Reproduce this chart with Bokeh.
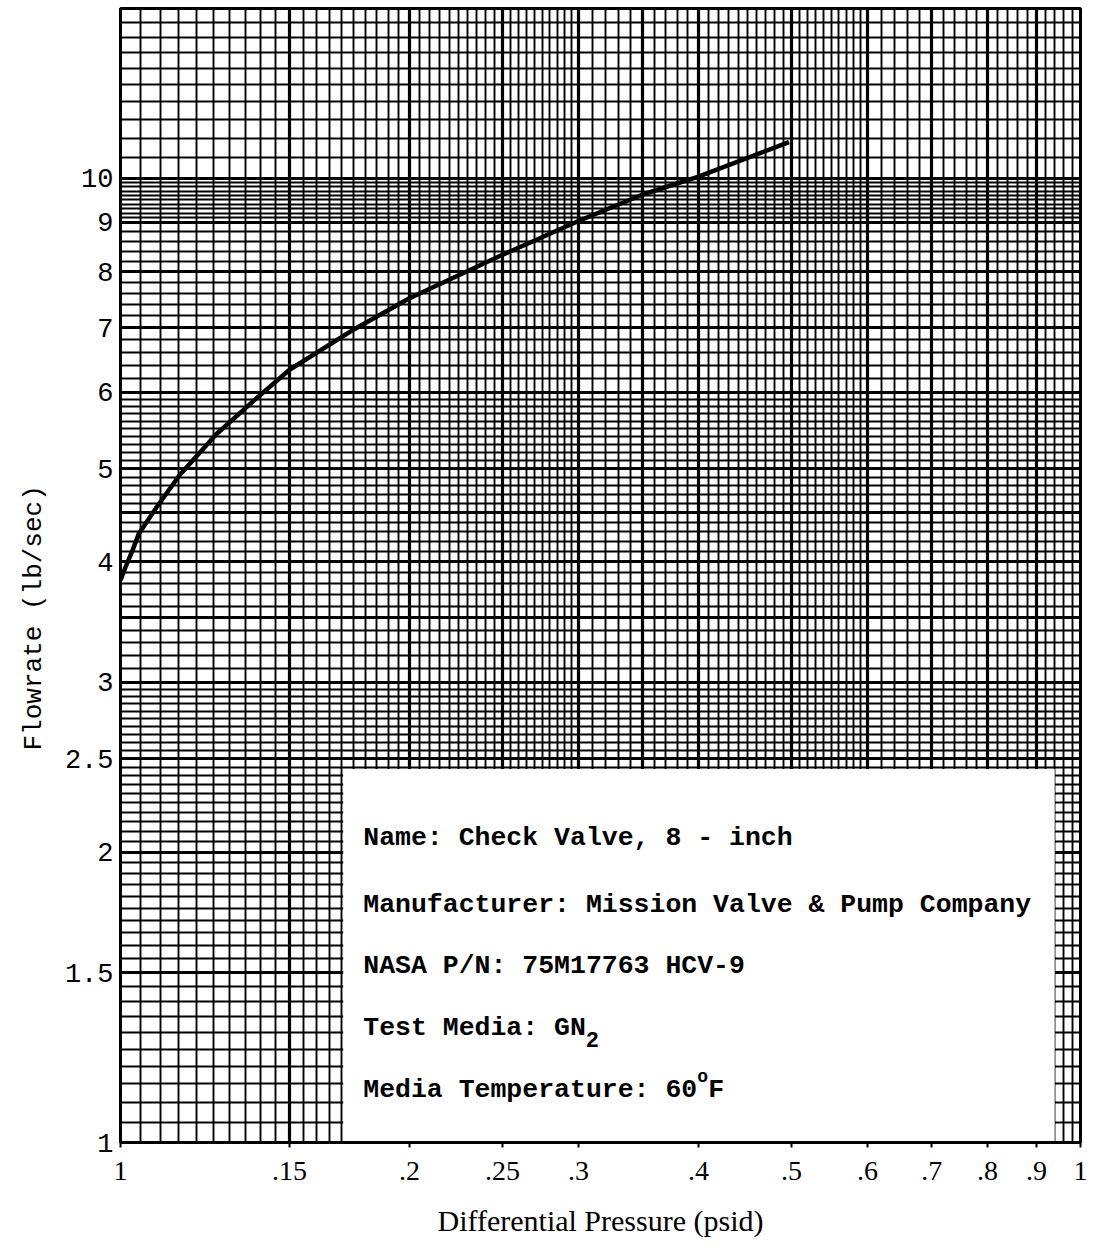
import numpy as np
from bokeh.plotting import figure
from bokeh.models import FixedTicker, Title
from bokeh.core.properties import value
from bokeh.embed import file_html
from bokeh.resources import INLINE

# ---- data ----
pressure = [0.100, 0.1012, 0.1029, 0.1045, 0.1089, 0.1152, 0.1259, 0.1377, 0.150,
            0.175, 0.200, 0.250, 0.300, 0.350, 0.400, 0.497]
flowrate = [3.83, 3.95, 4.11, 4.28, 4.55, 4.92, 5.43, 5.88, 6.33,
            6.97, 7.51, 8.33, 9.03, 9.62, 10.04, 10.9]

x_tick_values = [0.1, 0.15, 0.2, 0.25, 0.3, 0.4, 0.5, 0.6, 0.7, 0.8, 0.9, 1.0]
x_tick_labels = ["1", ".15", ".2", ".25", ".3", ".4", ".5", ".6", ".7", ".8", ".9", "1"]
y_tick_values = [1, 1.5, 2, 2.5, 3, 4, 5, 6, 7, 8, 9, 10]
y_tick_labels = ["1", "1.5", "2", "2.5", "3", "4", "5", "6", "7", "8", "9", "10"]

info_lines = ["Name: Check Valve, 8 - inch",
              "Manufacturer: Mission Valve & Pump Company",
              "NASA P/N: 75M17763 HCV-9",
              "Test Media: GN",
              "Media Temperature: 60"]

# ---- graph paper rulings ----
x_major_lines = [0.1, 0.15, 0.2, 0.25, 0.3, 0.35, 0.4, 0.5, 0.6, 0.7, 0.8, 0.9, 1.0]
x_minor_steps = [(0.1, 0.3, 0.005), (0.3, 0.6, 0.01), (0.6, 1.0, 0.02)]
y_major_lines = [1, 1.5, 2, 2.5, 3, 3.5, 4, 4.5, 5, 6, 7, 8, 9, 10, 15]
y_minor_steps = [(1, 3, 0.05), (3, 6, 0.1), (6, 9, 0.2), (9, 10, 0.1), (10, 15, 0.5)]


def rulings(steps, majors):
    vals = set()
    for a, b, s in steps:
        n = int(round((b - a) / s))
        for i in range(n + 1):
            vals.add(round(a + i * s, 4))
    maj = {round(m, 4) for m in majors}
    return sorted(v for v in vals if v not in maj)


x_minor_lines = rulings(x_minor_steps, x_major_lines)
y_minor_lines = rulings(y_minor_steps, y_major_lines)

p = figure(width=1094, height=1246, x_axis_type="log", y_axis_type="log",
           x_range=(0.1, 1.0), y_range=(1, 15),
           output_backend="svg", toolbar_location=None,
           min_border_left=120, min_border_right=14, min_border_top=8,
           min_border_bottom=104,
           background_fill_color="white", border_fill_color="white")

p.outline_line_color = "black"
p.outline_line_width = 3

# grid as graph paper
p.xgrid.ticker = FixedTicker(ticks=x_major_lines, minor_ticks=x_minor_lines)
p.ygrid.ticker = FixedTicker(ticks=y_major_lines, minor_ticks=y_minor_lines)
for g in (p.xgrid, p.ygrid):
    g.grid_line_color = "black"
    g.grid_line_width = 3.2
    g.grid_line_alpha = 1.0
    g.minor_grid_line_color = "black"
    g.minor_grid_line_width = 1.9
    g.minor_grid_line_alpha = 1.0

# axes
p.xaxis.ticker = FixedTicker(ticks=x_tick_values)
p.xaxis.major_label_overrides = {v: l for v, l in zip(x_tick_values, x_tick_labels)}
p.yaxis.ticker = FixedTicker(ticks=y_tick_values)
p.yaxis.major_label_overrides = {v: l for v, l in zip(y_tick_values, y_tick_labels)}

p.xaxis.axis_line_color = "black"
p.xaxis.axis_line_width = 3
p.xaxis.major_tick_out = 5
p.xaxis.major_tick_in = 0
p.xaxis.major_tick_line_width = 2
p.xaxis.minor_tick_line_color = None
p.xaxis.major_label_standoff = 14
p.xaxis.major_label_text_font = "Liberation Serif"
p.xaxis.major_label_text_font_size = "28px"
p.xaxis.major_label_text_color = "black"
p.xaxis.axis_label = "Differential Pressure (psid)"
p.xaxis.axis_label_text_font = "Liberation Serif"
p.xaxis.axis_label_text_font_size = "30px"
p.xaxis.axis_label_text_font_style = "normal"
p.xaxis.axis_label_text_color = "black"
p.xaxis.axis_label_standoff = 21

p.yaxis.axis_line_color = "black"
p.yaxis.axis_line_width = 3
p.yaxis.major_tick_out = 0
p.yaxis.major_tick_in = 0
p.yaxis.minor_tick_line_color = None
p.yaxis.major_label_standoff = 7
p.yaxis.major_label_text_font = "Liberation Mono"
p.yaxis.major_label_text_font_size = "27px"
p.yaxis.major_label_text_color = "black"

# y axis title (side title, started from the bottom so it sits lower as in the original)
p.add_layout(Title(text="Flowrate (lb/sec)", align="left", offset=392,
                   standoff=26, text_font="Liberation Mono",
                   text_font_size="26px", text_font_style="normal",
                   text_color="black"), "left")

# curve
p.line(pressure, flowrate, line_width=4.5, line_color="black")

# information box
box_left, box_right, box_bottom, box_top = 0.1706, 0.94, 1.0, 2.44
p.quad(left=[box_left], right=[box_right], bottom=[box_bottom], top=[box_top],
       fill_color="white", line_color=None)

text_x = 0.179
text_y = [2.07, 1.763, 1.524, 1.314, 1.133]
fs = 26.5
cw = 0.6 * fs
p.text(x=[text_x] * len(info_lines), y=text_y, text=info_lines,
       text_font=value("Liberation Mono"), text_font_size=f"{fs}px",
       text_font_style="bold", text_color="black",
       text_align="left", text_baseline="middle")
# subscript 2 of GN2
p.text(x=[text_x], y=[text_y[3]], text=["2"], x_offset=14 * cw, y_offset=11,
       text_font=value("Liberation Mono"), text_font_size="22px",
       text_font_style="bold", text_color="black",
       text_align="left", text_baseline="middle")
# degree mark and F
p.text(x=[text_x], y=[text_y[4]], text=["o"], x_offset=21 * cw, y_offset=-13,
       text_font=value("Liberation Mono"), text_font_size="18px",
       text_font_style="bold", text_color="black",
       text_align="left", text_baseline="middle")
p.text(x=[text_x], y=[text_y[4]], text=["F"], x_offset=21 * cw + 11,
       text_font=value("Liberation Mono"), text_font_size=f"{fs}px",
       text_font_style="bold", text_color="black",
       text_align="left", text_baseline="middle")

open("out.html", "w").write(file_html(p, INLINE))
